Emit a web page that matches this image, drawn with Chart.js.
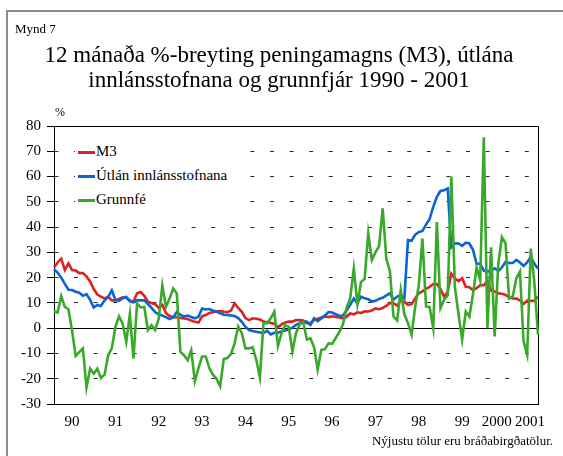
<!DOCTYPE html>
<html><head><meta charset="utf-8">
<script src="https://cdn.jsdelivr.net/npm/chart.js@4/dist/chart.umd.min.js"></script>
<style>
html,body{margin:0;padding:0;background:#fff;}
#wrap{position:relative;width:563px;height:456px;overflow:hidden;font-family:"Liberation Serif","Times New Roman",serif;color:#000;}
#frameL{position:absolute;left:6px;top:10px;width:2px;height:446px;background:#8c8c8c;}
#frameT{position:absolute;left:6px;top:10px;width:557px;height:2px;background:#8c8c8c;}
canvas{position:absolute;left:0;top:0;}
.t{position:absolute;white-space:nowrap;}
#lgbox{position:absolute;left:75px;top:140px;width:167px;height:72px;background:#fff;}
.row{position:absolute;left:0;height:17px;width:300px;}
.row .ln{position:absolute;left:78px;top:8px;width:17px;height:3px;}
.row .tx{position:absolute;left:96px;top:0;font-size:15px;line-height:17px;white-space:nowrap;}
</style></head>
<body><div id="wrap">
<canvas id="c" width="563" height="456"></canvas>
<div id="frameL"></div><div id="frameT"></div>
<div class="t" style="left:15px;top:21px;font-size:13px;">Mynd 7</div>
<div class="t" style="left:0;width:558px;top:42px;font-size:23px;line-height:25px;text-align:center;">12 mánaða %-breyting peningamagns (M3), útlána<br>innlánsstofnana og grunnfjár 1990 - 2001</div>
<div class="t" style="left:55px;top:105px;font-size:12px;">%</div>
<div id="legend"><div id="lgbox"></div></div>
<div class="t" style="right:10px;top:433px;font-size:13px;">Nýjustu tölur eru bráðabirgðatölur.</div>
</div>
<script>
// categories: months Jan 1990 .. Mar 2001
const months = [];
for (let y = 1990; y <= 2001; y++) {
  for (let m = 1; m <= 12; m++) {
    if (y === 2001 && m > 3) break;
    months.push(y + '-' + (m < 10 ? '0' + m : m));
  }
}
const seriesNames = ['M3', 'Útlán innlánsstofnana', 'Grunnfé'];

const m3 = [24, 26, 27.5, 23, 25.6, 23, 22.8, 21.8, 21.8, 20.5,
  18.5, 15.5, 13.3, 12.5, 11.8, 12.4, 11, 11, 11.6, 12.2,
  12, 11, 10.5, 13.8, 14.3, 12.8, 10.5, 9.9, 9.5, 8,
  9.2, 6, 4.8, 4.3, 4.3, 4, 3.8, 3.6, 3, 2.5,
  2.2, 4.7, 5.2, 6, 6.3, 6.6, 6.8, 6.5, 6.3, 7,
  9.8, 8, 6.5, 4, 3.2, 3.9, 3.7, 3.4, 2.6, 2.3,
  2.1, 1.8, 0.4, 1.5, 2.3, 2.6, 2.6, 3.2, 3.2, 3,
  2, 2, 3.2, 3.7, 4.2, 4.6, 4.4, 4.7, 4.4, 4.2,
  3.9, 4.5, 5.8, 5.5, 6.3, 6, 6.7, 6.6, 7, 7.8,
  7.5, 8, 8.8, 10, 9.9, 8.9, 11.1, 10.4, 9.2, 9.5,
  11.8, 13.8, 14.6, 15.6, 16.3, 17.5, 17.5, 15.5, 12.5, 14.3,
  21.5, 19.6, 18.6, 19.8, 16.4, 16.2, 15, 15.8, 17, 17,
  18.6, 14.9, 14.5, 13.8, 13.6, 13.2, 12.1, 11.8, 11.7, 11,
  9.6, 10.9, 10.8, 10.9, 12.5];

const utlan = [23.3, 22, 20, 17.5, 15.2, 15.1, 14.4, 14, 12.8, 13.5,
  11.2, 8.2, 9.2, 8.8, 11, 12.4, 15, 11.2, 10.8, 11.8,
  12.4, 10.6, 10.2, 11.1, 11, 11, 9.5, 8, 6.4, 5.4,
  5, 4.4, 3.6, 4.2, 6.4, 5.3, 4.6, 5, 4.4, 3.9,
  4.5, 7.8, 7.4, 7.6, 7, 6.6, 5.9, 5.3, 5.2, 5,
  4.8, 4, 2.5, 0.5, -0.7, -1.1, -1.4, -1.7, -2, -1,
  -2.5, -1.8, -1.8, -1.2, -0.9, -0.5, 0.2, 1.3, 2, 2.4,
  2.6, 1.3, 3.9, 2.8, 3.8, 5, 6.4, 6.2, 5.5, 4.9,
  5, 7, 9.2, 11.7, 9.9, 12.5, 11.8, 11.5, 10.5, 10.8,
  11.6, 12, 13, 13.8, 11.3, 12.5, 13, 11.8, 34.9, 34.6,
  37, 38, 38.5, 41, 43.2, 48, 52, 54.3, 54.6, 55.3,
  32, 33.6, 33.5, 32.6, 33.8, 33.5, 31, 25.5, 25.5, 22.8,
  22.4, 22.8, 23.7, 22.6, 24, 26.2, 25.8, 25.8, 27, 26,
  24.6, 26, 28.2, 25.5, 23.5];

const grunnfe = [6.7, 6.2, 12.7, 8.4, 7.5, -1, -11, -9.5, -8, -23.5,
  -16, -18, -16, -19.7, -18.4, -10.7, -8, 0.5, 4.7, 1.8,
  -5.4, 5.5, -12, 9.8, 8.2, 8.4, -0.7, 1.2, -0.7, 3.8,
  17, 8.4, 11.7, 15.7, 13.7, -9.4, -10.7, -12.7, -8.8, -21,
  -15.8, -11.2, -11.2, -15.8, -18.4, -20, -23, -12.2, -11.8, -10.2,
  -6, 0.7, -2, -8, -8, -7.5, -12.5, -19.5, 2, 2,
  3.9, 6.5, -7, -2, 1.2, 0.5, -9.2, -2, 1.5, 2.5,
  -4.5, -4, -7.5, -16.4, -8.6, -8.3, -6, -6.2, -3.9, -1.5,
  1.5, 8, 11.8, 23.5, 9.5, 18.3, 19.5, 37.5, 27, 30,
  32.5, 47.4, 27.6, 22.5, 4.6, 3, 15, 5.5, 2, -2.6,
  8.5, 17, 35.5, 8.6, 8.3, 0, 42, 8, 11.3, 13,
  60, 16, 5.5, -4.6, 6.6, 4.6, 13.5, 24, 19, 75.5,
  0, 32, -3.3, 25.5, 36, 33.6, 11.8, 12.5, 19.7, 22.4,
  -5, -10.5, 31.5, 17.8, -2.6];

// x-axis tick labels (years)
const yearLabels = ['90', '91', '92', '93', '94', '95', '96', '97', '98', '99', '2000', '2001'];
const yearTickPos = yearLabels.map((l, k) => k < 10 ? 12 * k + 5 : (k === 10 ? 122.6 : 131.8));

const colors = ['#dc2222', '#0a64d4', '#39a82b'];
const series = [m3, utlan, grunnfe];

const font = {family: '"Liberation Serif", "Times New Roman", serif', size: 15};

const frame = {
  id: 'frame',
  beforeDatasetsDraw(chart) {
    const a = chart.chartArea, c = chart.ctx;
    c.save();
    c.strokeStyle = '#000';
    c.lineWidth = 1;
    c.beginPath();
    c.moveTo(a.left, a.top + 0.5);
    c.lineTo(a.right + 0.5, a.top + 0.5);
    c.lineTo(a.right + 0.5, a.bottom);
    c.stroke();
    c.restore();
  }
};

new Chart(document.getElementById('c'), {
  type: 'line',
  data: {
    labels: months,
    datasets: series.map((d, i) => ({
      label: seriesNames[i],
      data: d,
      borderColor: colors[i],
      backgroundColor: colors[i],
      borderWidth: 2.6,
      pointRadius: 0,
      tension: 0,
      fill: false,
      order: 3 - i
    }))
  },
  options: {
    responsive: false,
    animation: false,
    devicePixelRatio: 1,
    layout: {padding: {left: 0, top: 126, right: 25, bottom: 26}},
    plugins: {legend: {display: false}, tooltip: {enabled: false}, title: {display: false}},
    scales: {
      x: {
        type: 'category',
        offset: false,
        afterBuildTicks: s => { s.ticks = yearTickPos.map(v => ({value: v})); },
        afterFit: s => { s.height = 26; },
        grid: {display: false, drawTicks: false},
        border: {display: true, color: '#000', width: 1},
        ticks: {
          autoSkip: false, maxRotation: 0, minRotation: 0, padding: 9,
          color: '#000', font: font,
          callback: (v, i) => yearLabels[i]
        }
      },
      y: {
        min: -30, max: 80,
        afterFit: s => { s.width = 54; },
        grid: {
          color: ctx => (ctx.tick && ctx.tick.value === 0) ? '#000' : '#2a2a2a',
          lineWidth: 1,
          drawTicks: true,
          tickLength: 7,
          tickColor: '#000',
          tickBorderDash: []
        },
        border: {
          display: true, color: '#000', width: 1,
          dash: ctx => (ctx.tick && ctx.tick.value !== 0 && ctx.tick.value !== -30 && ctx.tick.value !== 80) ? [4, 15.6] : [],
          dashOffset: 0.6
        },
        ticks: {stepSize: 10, padding: 6, color: '#000', font: font}
      }
    }
  },
  plugins: [frame]
});

// HTML legend
const lg = document.getElementById('legend');
seriesNames.forEach((n, i) => {
  const r = document.createElement('div');
  r.className = 'row';
  r.style.top = (143 + 24 * i) + 'px';
  r.innerHTML = '<span class="ln" style="background:' + colors[i] + '"></span><span class="tx"></span>';
  r.querySelector('.tx').textContent = n;
  lg.appendChild(r);
});
</script>
</body></html>
